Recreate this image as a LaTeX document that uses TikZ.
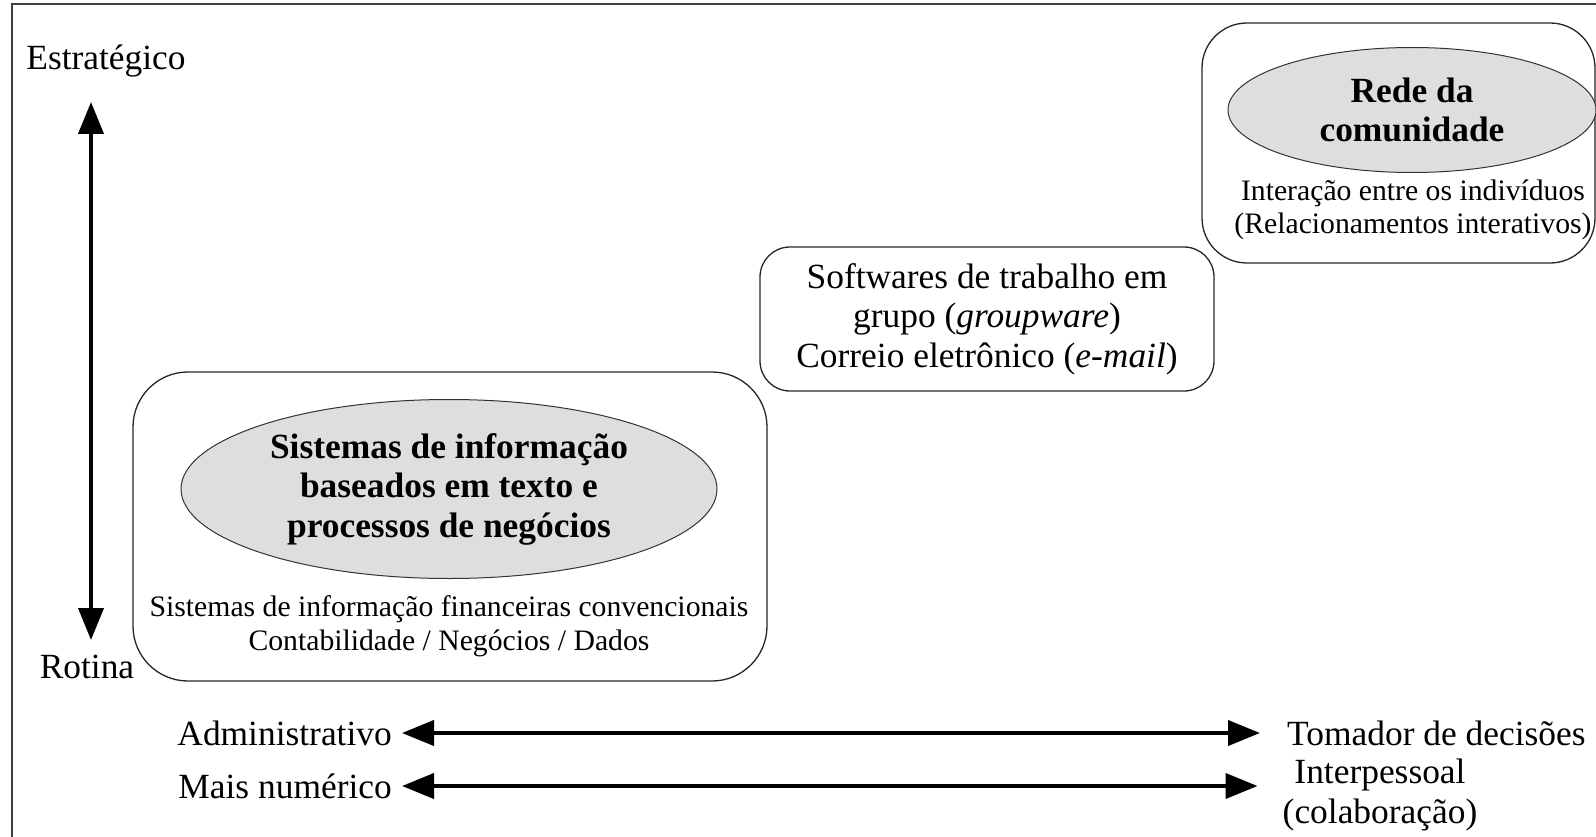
\documentclass[tikz,border=0pt]{standalone}
\usepackage{fontspec}
\setmainfont{Liberation Serif}
\usetikzlibrary{shapes,positioning,arrows.meta,calc}

\begin{document}
\begin{tikzpicture}[x=1pt,y=-1pt,
box/.style={
rectangle,draw=black!85,line width=1.3pt,align=center,inner sep=0pt}, % frames
core/.style={
ellipse,draw=black!80,line width=1pt,fill=black!13,inner sep=0pt,align=center,
font={\fontsize{35.4}{39.5}\selectfont\bfseries}}]

\tikzset{
  big/.style={font={\fontsize{35.4}{39.5}\selectfont},inner sep=0pt,align=center},
  small/.style={font={\fontsize{29.7}{33.6}\selectfont},inner sep=0pt,align=center},
  axis/.style={line width=4pt,{Triangle[length=32pt,width=25pt]}-{Triangle[length=32pt,width=25pt]}}
}

    \useasboundingbox (0,0) rectangle (1596,837);
    \draw[line width=1.2pt,black!75] (12,837) -- (12,4) -- (1596,4);

    % vertical axis
    \node[big] at (106,61) (estr) {Estratégico};
    \node[big] at (87,667) (rot) {Rotina};
    \coordinate (vtop) at (91,102);
    \coordinate (vbot) at (91,640);
    \draw[axis] (vtop) -- (vbot);

    \node[box,rounded corners=55pt,minimum width=634pt,minimum height=309pt] at (450,526.5) (sis) {};
    \node[core,minimum width=536pt,minimum height=179pt] at (449,489) (siscore) {Sistemas de informação\\baseados em texto e\\processos de negócios};
    \node[small] at (449,626) (sisnote) {Sistemas de informação financeiras convencionais\\Contabilidade / Negócios / Dados};

    \node[box,big,rounded corners=30pt,minimum width=454pt,minimum height=144pt] at (987,319) (group) {Softwares de trabalho em\\grupo (\textit{groupware})\\Correio eletrônico (\textit{e-mail})};

    \node[box,rounded corners=45pt,minimum width=393pt,minimum height=240pt] at (1398.5,143) (rede) {};
    \node[core,minimum width=368pt,minimum height=125pt] at (1412,110) (redecore) {Rede da\\comunidade};
    \node[small] at (1413,210) (redenote) {Interação entre os indivíduos\\(Relacionamentos interativos)};

    % horizontal axes
    \node[big,anchor=east] at (392,733) (adm) {Administrativo};
    \node[big,anchor=west] at (1287,733) (tom) {Tomador de decisões};
    \node[big,anchor=east] at (392,786) (mais) {Mais numérico};
    \node[big] at (1380,795) (inter) {Interpessoal\\(colaboração)};
    \draw[axis] ([xshift=10pt]adm.east) -- ([xshift=-27pt]tom.west);
    \draw[axis] ([xshift=10pt]mais.east) -- ($(mais.east-|inter.west)+(-25,0)$);

\end{tikzpicture}
\end{document}
